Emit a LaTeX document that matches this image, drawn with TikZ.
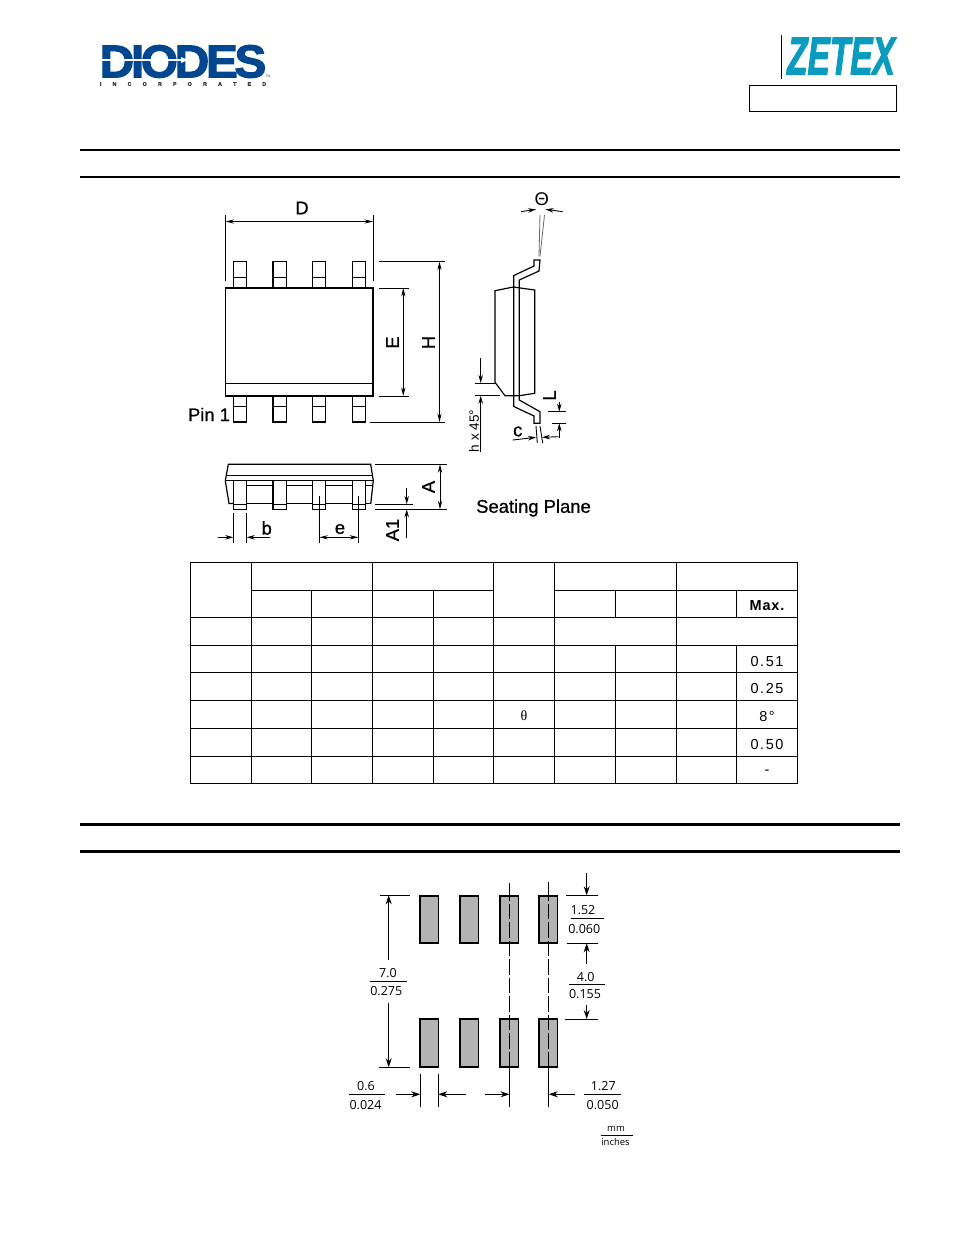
\documentclass[tikz,border=0pt]{standalone}
\usepackage{graphicx}
\usepackage{fontspec}
\setmainfont{Liberation Sans}
\newfontfamily\lblfont[FakeBold=0.8]{Liberation Sans}
\newfontfamily\thetafont{Liberation Serif}
\newfontfamily\tabfont[LetterSpace=11]{Liberation Sans}
\newfontfamily\tabbold[LetterSpace=6]{Liberation Sans Bold}
\newfontfamily\landfont{Open Sans}
\newfontfamily\logofont[LetterSpace=-7,FakeBold=2.5]{Liberation Sans Bold}
\newfontfamily\incfont[FakeBold=1.5]{Liberation Sans Bold}
\newfontfamily\zetfont[FakeBold=2.5]{Liberation Sans Bold Italic}
\newcommand{\incgap}{\hskip 11.2pt}
\usetikzlibrary{arrows.meta}
\definecolor{diodesblue}{HTML}{00478F}
\definecolor{zetexteal}{HTML}{0A9BBE}
\definecolor{padgray}{HTML}{B3B3B3}
\tikzset{
  x=1pt,y=-1pt,
  rulethin/.style={line width=1.6pt},
  rulethick/.style={line width=2.4pt},
  part/.style={line width=1.05pt},
  heavy/.style={line width=1.7pt},
  grid/.style={line width=.9pt},
  dim/.style={line width=.9pt},
  dimtip/.style={line width=.9pt,-{Stealth[length=8pt,width=4.5pt]}},
  dimboth/.style={line width=.9pt,{Stealth[length=8.5pt,width=4.2pt]}-{Stealth[length=8.5pt,width=4.2pt]}},
  landdim/.style={line width=.9pt,-{Stealth[length=9pt,width=6pt]}},
  lbl/.style={inner sep=0pt,font=\lblfont\fontsize{18.4}{18}\selectfont},
  smalllbl/.style={inner sep=0pt,font=\fontsize{13.5}{14}\selectfont},
  tab/.style={inner sep=0pt,font=\tabfont\fontsize{14.5}{15}\selectfont},
  land/.style={inner sep=0pt,font=\landfont\fontsize{12.5}{13}\selectfont},
  landsm/.style={inner sep=0pt,font=\landfont\fontsize{9.5}{10}\selectfont},
  pad/.style={fill=padgray,draw=black,line width=1.9pt},
  anglegray/.style={draw=black!60,line width=.8pt},
}
\begin{document}
\begin{tikzpicture}
\useasboundingbox[fill=white] (0,0) rectangle (954,1235);

% --- logos
\node[inner sep=0pt,text=diodesblue] (diodes) at (183,61.5)
  {\scalebox{1.04}[1]{\logofont\fontsize{46}{46}\selectfont DIODES}};
\draw[white,line width=1.3pt] (100,60) -- (181,60);
\fill[white] (181,57) -- (188,60) -- (181,63) -- cycle;
\node[inner sep=0pt,text=black!80] (inc) at (183,84)
  {\incfont\fontsize{5.3}{5}\selectfont I\incgap N\incgap C\incgap O\incgap R\incgap P\incgap O\incgap R\incgap A\incgap T\incgap E\incgap D};
\node[inner sep=0pt,text=black!70] (tm) at (268,76.5) {\fontsize{3.5}{4}\selectfont TM};
\draw[line width=1pt] (781,35) -- (781,79);
\node[inner sep=0pt,text=zetexteal] (zetex) at (841,56)
  {\scalebox{.63}[1]{\zetfont\fontsize{53}{53}\selectfont ZETEX}};
\draw[line width=1pt] (749,85.5) rectangle (896.5,111);

% --- section rules
\draw[rulethin] (80,150) -- (900,150);
\draw[rulethin] (80,177) -- (900,177);
\draw[rulethick] (80,824.5) -- (900,824.5);
\draw[rulethick] (80,851.5) -- (900,851.5);

% --- top view
\foreach \a/\b in {233.3/246.7,273/286.7,312.5/325.7,352.5/365.5}{
  \draw[part] (\a,261.5) rectangle (\b,288);
  \draw[part] (\a,277.3) -- (\b,277.3);
  \draw[part] (\a,396) rectangle (\b,422);
  \draw[part] (\a,406.7) -- (\b,406.7);
}
\draw[line width=1.4pt] (273,261.5) -- (273,288);
\draw[line width=1.4pt] (273,396) -- (273,422);
\draw[part,fill=white] (225.5,288) rectangle (373,396);
\draw[heavy] (373,288) -- (373,396) -- (225.5,396);
\draw[part] (225.5,383.5) -- (373,383.5);
\draw[dim] (225.5,215) -- (225.5,281);
\draw[dim] (373,215) -- (373,281);
\draw[dimboth] (225.5,221.5) -- (373,221.5);
\node[lbl] (lD) at (302,208) {D};
\draw[dim] (379,261.5) -- (445,261.5);
\draw[dim] (370,422) -- (445,422);
\draw[dim] (379,288) -- (409,288);
\draw[dim] (379,396) -- (409,396);
\draw[dimboth] (439.5,261.5) -- (439.5,422);
\draw[dimboth] (403.3,288) -- (403.3,396);
\node[lbl,rotate=90] (lE) at (392.5,342.5) {E};
\node[lbl,rotate=90] (lH) at (428.5,342.5) {H};
\node[lbl] (lPin) at (209,414.5) {Pin 1};

% --- side view
\draw[line width=1.2pt] (495,290.7) -- (513.3,287) -- (534.7,290) -- (534.7,393.3) -- (519.3,395.7) -- (505,395.7) -- (495,382.3) -- cycle;
\draw[line width=1.2pt] (513.8,406.5) -- (513.8,275.5) -- (534,266) -- (534,260) -- (540,260) -- (539,271) -- (519.3,280) -- (519.3,400) -- (540,411.7) -- (540,423.3) -- (534,423.3) -- (534,416) -- (513.8,406.5);
\draw[anglegray] (540,215) -- (539,256);
\draw[anglegray] (544.5,215) -- (540,256.5);
\draw[dimtip] (521,211.7) -- (536,209.3);
\draw[dimtip] (562.7,211.7) -- (545.5,209.3);
\node[inner sep=0pt,font=\fontsize{18.4}{18}\selectfont] (lTheta) at (541.8,199.5) {Θ};
\draw[dim] (475,383) -- (495,383);
\draw[dim] (475,395.7) -- (500,395.7);
\draw[dimtip] (480.7,358) -- (480.7,383);
\draw[dimtip] (480.7,452) -- (480.7,395.7);
\node[smalllbl,rotate=90] (lh) at (474,431) {h x 45°};
\draw[dim] (548,411.7) -- (566,411.7);
\draw[dim] (552,423.3) -- (566,423.3);
\draw[dimtip] (559.3,401.5) -- (559.3,411.7);
\draw[dimtip] (559.3,438.3) -- (559.3,423.3);
\node[lbl,rotate=90] (lL) at (549.5,395.5) {L};
\draw[dim] (536,426) -- (537.3,443);
\draw[dim] (540,426) -- (542.7,443);
\draw[dimtip] (512.7,440) -- (536,437.3);
\draw[dimtip] (558.7,436.7) -- (542,437.3);
\node[lbl] (lc) at (517.8,431.5) {c};

% --- front view
\draw[line width=1.2pt] (225.3,480.7) -- (228.3,464.3) -- (370.7,464.3) -- (373.3,480.7) -- (370.7,504);
\draw[line width=1.2pt] (225.3,480.7) -- (229,503.5) -- (233.3,503.5);
\draw[part] (226,475.3) -- (372.5,475.3);
\draw[part] (225.3,480.7) -- (373.3,480.7);
\draw[part] (246.7,485.3) -- (372,485.3);
\draw[heavy] (246.7,503.5) -- (352.5,503.5);
\draw[part] (365.5,503.5) -- (370.7,503.5);
\foreach \a/\b in {233.3/246.7,273/286.7,312.5/325.7,352.5/365.5}{
  \draw[part,fill=white] (\a,480.7) rectangle (\b,509.5);
  \draw[line width=.8pt] (\a,504.6) -- (\b,504.6);
}
\draw[line width=1.7pt] (273,480.7) -- (273,509.3);
\draw[dim] (375,464.3) -- (446.7,464.3);
\draw[dim] (375,509.3) -- (446.7,509.3);
\draw[dim] (375,504) -- (413.3,504);
\draw[dimboth] (440,464.3) -- (440,509.3);
\node[lbl,rotate=90] (lA) at (428.5,487) {A};
\draw[dimtip] (406.7,488.3) -- (406.7,504);
\draw[dimtip] (406.7,538.3) -- (406.7,509.3);
\node[lbl,rotate=90] (lAone) at (392.5,530) {A1};
\draw[dim] (233.3,513.3) -- (233.3,543.3);
\draw[dim] (246.7,513.3) -- (246.7,543.3);
\draw[dimtip] (218.3,537.3) -- (233.3,537.3);
\draw[dimtip] (270,537.3) -- (246.7,537.3);
\node[lbl] (lb) at (266.7,528) {b};
\draw[dim] (319.3,496) -- (319.3,543.3);
\draw[dim] (358.3,496) -- (358.3,543.3);
\draw[dimboth] (319.3,537.3) -- (358.3,537.3);
\node[lbl] (le) at (340,529) {e};
\node[lbl] (lSeat) at (533.5,508) {Seating Plane};

% --- table
\draw[grid] (190.5,562.5) rectangle (797.5,783.5);
\foreach \y in {617.5,645.3,672.3,700.3,728.2,756.2}{\draw[grid] (190.5,\y) -- (797.5,\y);}
\draw[grid] (251.5,590.3) -- (493.5,590.3);
\draw[grid] (554.5,590.3) -- (797.5,590.3);
\foreach \x in {251.5,372.5,493.5,554.5,676.5}{\draw[grid] (\x,562.5) -- (\x,783.5);}
\foreach \x in {311.5,433.5}{\draw[grid] (\x,590.3) -- (\x,783.5);}
\foreach \x in {615.5,736.5}{
  \draw[grid] (\x,590.3) -- (\x,617.5);
  \draw[grid] (\x,645.3) -- (\x,783.5);
}
\node[inner sep=0pt,font=\tabbold\fontsize{14.5}{15}\selectfont] (tMax) at (767,606) {Max.};
\node[tab] (t1) at (767,661) {0.51};
\node[tab] (t2) at (767,688.5) {0.25};
\node[inner sep=0pt,font=\thetafont\fontsize{14}{14}\selectfont] (tTheta) at (524,716) {θ};
\node[tab] (t3) at (767,716.5) {8°};
\node[tab] (t4) at (767,744.5) {0.50};
\node[tab] (t5) at (767,772) {-};

% --- land pattern
\foreach \a in {420.2,460.2,500.2,539.2}{
  \draw[pad] (\a,896) rectangle ++(18.3,47.4);
  \draw[pad] (\a,1019.2) rectangle ++(18.3,47.6);
}
\foreach \x/\t in {509.5/883.3,548.8/881.7}{
  \draw[dim] (\x,\t) -- (\x,896);
  \draw[dim,dash pattern=on 15.5pt off 3pt,dash phase=11pt] (\x,896) -- (\x,1067.3);
  \draw[dim] (\x,1067.3) -- (\x,1106.7);
}
\draw[dim] (380,895.3) -- (410,895.3);
\draw[dim] (379,1067.3) -- (410,1067.3);
\draw[landdim] (388.7,960) -- (388.7,895.3);
\draw[landdim] (388.7,1002.7) -- (388.7,1067.3);
\node[land] (n70) at (388,973) {7.0};
\draw[dim] (370,981.3) -- (406.7,981.3);
\node[land] (n275) at (386.3,991) {0.275};
\draw[dim] (566,895.3) -- (598.3,895.3);
\draw[dim] (566.7,943.3) -- (598.3,943.3);
\draw[dim] (565,1019) -- (598.3,1019);
\draw[landdim] (586.7,872.7) -- (586.7,895.3);
\draw[landdim] (586.7,964) -- (586.7,943.3);
\draw[landdim] (586.7,1005) -- (586.7,1019);
\node[land] (n152) at (583,910.3) {1.52};
\draw[dim] (570.7,918.3) -- (604,918.3);
\node[land] (n060) at (584.3,929.5) {0.060};
\node[land] (n40) at (585.7,976.7) {4.0};
\draw[dim] (569,984.3) -- (605,984.3);
\node[land] (n155) at (585,994.5) {0.155};
\draw[dim] (420.3,1074) -- (420.3,1106.7);
\draw[dim] (438.3,1074) -- (438.3,1106.7);
\draw[landdim] (396,1094.3) -- (420.3,1094.3);
\draw[landdim] (466,1094.3) -- (438.3,1094.3);
\draw[landdim] (485.3,1094.3) -- (509.5,1094.3);
\draw[landdim] (575,1094.3) -- (548.8,1094.3);
\node[land] (n06) at (366,1085.7) {0.6};
\draw[dim] (349.3,1094.3) -- (385,1094.3);
\node[land] (n024) at (365.5,1104.7) {0.024};
\node[land] (n127) at (603.3,1085.7) {1.27};
\draw[dim] (584.3,1094.3) -- (620.7,1094.3);
\node[land] (n050) at (602.7,1104.7) {0.050};
\node[landsm] (nmm) at (616,1129) {mm};
\draw[dim] (600.7,1135.7) -- (632.7,1135.7);
\node[landsm] (nin) at (615.5,1142.3) {inches};
\end{tikzpicture}
\end{document}
